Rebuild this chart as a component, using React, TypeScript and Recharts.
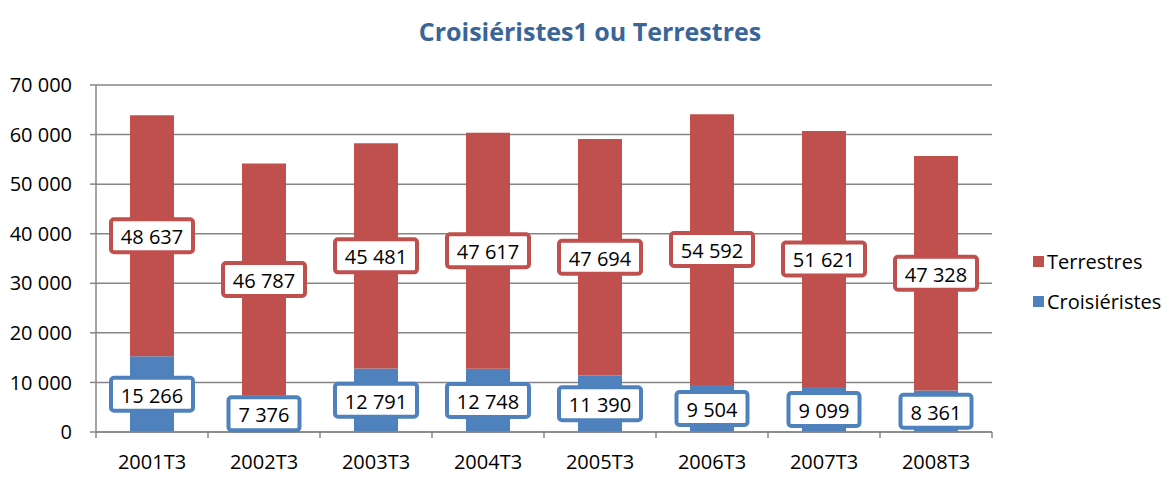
import React from 'react';
import { BarChart, Bar, XAxis, YAxis, CartesianGrid, LabelList } from 'recharts';

const categories = ['2001T3', '2002T3', '2003T3', '2004T3', '2005T3', '2006T3', '2007T3', '2008T3'];
const croisieristes = [15266, 7376, 12791, 12748, 11390, 9504, 9099, 8361];
const terrestres = [48637, 46787, 45481, 47617, 47694, 54592, 51621, 47328];
const yTicks = [0, 10000, 20000, 30000, 40000, 50000, 60000, 70000];
const legendItems = ['Terrestres', 'Croisiéristes'];

const RED = '#C0504D';
const BLUE = '#4F81BD';
const FONT = '"Open Sans", sans-serif';

const data = categories.map((c, i) => ({ cat: c, croisieristes: croisieristes[i], terrestres: terrestres[i] }));

const fmt = (v: number) => String(v).replace(/\B(?=(\d{3})+(?!\d))/g, ' ');

const makeLabel = (color: string) => (props: any) => {
  const { x, y, width, height, value } = props;
  const cx = Number(x) + Number(width) / 2;
  const cy = Number(y) + Number(height) / 2;
  const text = fmt(Number(value));
  const w = text.length * 11 + 16;
  const h = 33;
  return (
    <g>
      <rect x={cx - w / 2} y={cy - h / 2} width={w} height={h} rx={3} ry={3} fill="#fff" stroke={color} strokeWidth={4} />
      <text x={cx} y={cy + 1} textAnchor="middle" dominantBaseline="central" fontFamily={FONT} fontSize={20} fill="#000">
        {text}
      </text>
    </g>
  );
};

const XTick = (props: any) => {
  const { x, y, payload, width, index } = props;
  const bw = Number(width) / categories.length;
  return (
    <g>
      <line x1={x - bw / 2} x2={x - bw / 2} y1={y} y2={y + 6} stroke="#868686" strokeWidth={1.5} />
      {index === categories.length - 1 && (
        <line x1={x + bw / 2} x2={x + bw / 2} y1={y} y2={y + 6} stroke="#868686" strokeWidth={1.5} />
      )}
      <text x={x} y={y + 37} textAnchor="middle" fontFamily={FONT} fontSize={20} fill="#000">
        {payload.value}
      </text>
    </g>
  );
};

export default function App() {
  const colors = [RED, BLUE];
  return (
    <div style={{ position: 'absolute', left: 0, top: 0, width: 1167, height: 477, background: '#fff' }}>
      <div
        style={{
          position: 'absolute',
          left: 0,
          top: 14,
          width: 1180,
          textAlign: 'center',
          fontFamily: FONT,
          fontWeight: 700,
          fontSize: 25,
          color: '#3A6598',
        }}
      >
        Croisiéristes1 ou Terrestres
      </div>
      <div style={{ position: 'absolute', left: 1033, top: 241, fontFamily: FONT, fontSize: 20, color: '#000' }}>
        {legendItems.map((name, i) => (
          <div key={name} style={{ display: 'flex', alignItems: 'center', height: 40 }}>
            <span style={{ display: 'inline-block', width: 11, height: 11, background: colors[i], marginRight: 3 }} />
            <span>{name}</span>
          </div>
        ))}
      </div>
      <BarChart
        width={1167}
        height={477}
        data={data}
        margin={{ top: 85, right: 175, bottom: 0, left: 0 }}
        barSize={44}
      >
        <CartesianGrid vertical={false} stroke="#868686" strokeWidth={1.5} />
        <XAxis
          dataKey="cat"
          height={45}
          tickSize={0}
          tickMargin={0}
          axisLine={{ stroke: '#868686', strokeWidth: 1.5 }}
          tickLine={false}
          tick={<XTick />}
          interval={0}
        />
        <YAxis
          width={96}
          domain={[0, 70000]}
          ticks={yTicks}
          tickFormatter={fmt}
          tickSize={6}
          tickMargin={18}
          axisLine={{ stroke: '#868686', strokeWidth: 1.5 }}
          tickLine={{ stroke: '#868686', strokeWidth: 1.5 }}
          tick={{ fontFamily: FONT, fontSize: 20, fill: '#000' }}
        />
        <Bar dataKey="croisieristes" name="Croisiéristes" stackId="a" fill={BLUE} isAnimationActive={false}>
          <LabelList dataKey="croisieristes" content={makeLabel(BLUE)} />
        </Bar>
        <Bar dataKey="terrestres" name="Terrestres" stackId="a" fill={RED} isAnimationActive={false}>
          <LabelList dataKey="terrestres" content={makeLabel(RED)} />
        </Bar>
      </BarChart>
    </div>
  );
}
